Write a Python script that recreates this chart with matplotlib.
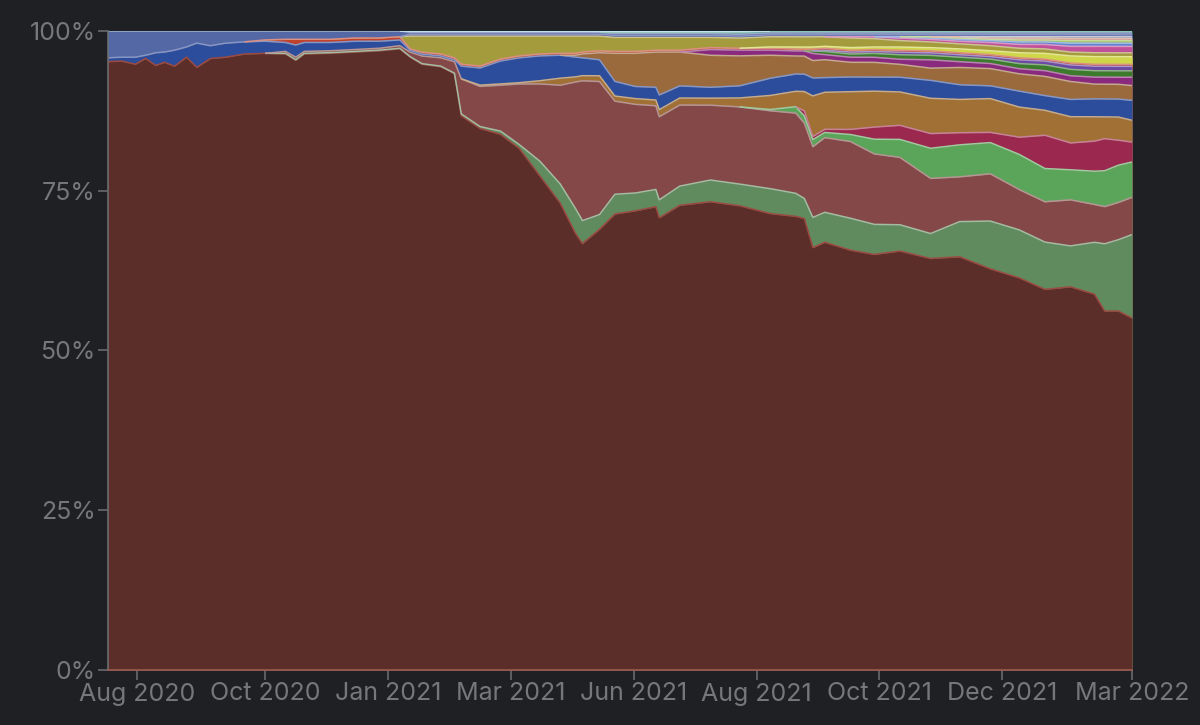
import numpy as np
import matplotlib.pyplot as plt
from matplotlib.colors import to_rgb

plt.rcParams['font.family'] = ['Inter', 'DejaVu Sans']

# sample points, days since 2020-07-14 (chart ends early March 2022)
day = [0, 8, 16, 22, 28, 33, 39, 46, 52, 60,
       69, 80, 92, 104, 110, 115, 130, 145, 159, 171,
       177, 184, 195, 203, 207, 218, 230, 241, 253, 265,
       274, 278, 288, 297, 309, 321, 323, 335, 353, 370,
       388, 403, 408, 413, 420, 435, 449, 464, 482, 499,
       517, 534, 549, 564, 578, 584, 592, 600]

tick_days = [17, 92, 164, 236, 308, 380, 452, 524, 600]
tick_labels = ['Aug 2020', 'Oct 2020', 'Jan 2021', 'Mar 2021', 'Jun 2021',
               'Aug 2021', 'Oct 2021', 'Dec 2021', 'Mar 2022']

# shares in percent, bottom layer first
main = [95.2, 95.3, 94.8, 95.8, 94.5, 95.2, 94.5, 95.9, 94.4, 95.6,
        95.9, 96.4, 96.6, 96.6, 95.5, 96.6, 96.7, 96.9, 97.0, 97.2,
        95.9, 94.5, 94.4, 93.3, 86.9, 85.0, 84.0, 81.7, 77.5, 73.2,
        68.5, 66.8, 68.9, 71.5, 72.0, 72.5, 70.7, 72.8, 73.2, 72.8,
        71.5, 70.7, 70.1, 65.7, 67.0, 65.7, 64.9, 65.3, 64.2, 64.6,
        62.9, 61.3, 59.5, 59.9, 58.7, 56.0, 55.9, 54.8]
green1 = [0] * 13 + [0.1] * 11 + [
    0.3, 0.3, 0.5, 0.6, 2.3, 3.0, 3.9, 3.6, 2.3, 3.1, 2.8, 2.7, 2.8, 3.0, 3.4,
    3.4, 3.9, 3.6, 3.1, 4.7, 4.7, 5.0, 4.7, 4.1, 3.9, 5.5, 7.5, 7.5, 7.4, 6.4,
    8.1, 10.5, 11.1, 13.0]
rose = [0] * 13 + [
    0.3, 0.4, 0.3, 0.3, 0.3, 0.3, 0.4, 0.7, 1.2, 1.3, 1.8, 5.5, 6.3, 7.2, 9.5,
    12.1, 15.5, 19.9, 21.9, 20.8, 14.6, 13.9, 13.1, 13.0, 12.7, 11.7, 12.1,
    12.2, 12.5, 11.7, 11.0, 11.7, 12.0, 11.0, 10.5, 8.6, 7.0, 7.4, 6.3, 6.3,
    7.2, 5.9, 5.8, 5.8, 5.8]
green2 = [0] * 40 + [0.2, 1.0, 1.1, 1.1, 0.8, 1.1, 2.3, 2.8, 4.7, 5.0, 4.9,
                     5.5, 5.2, 4.7, 5.2, 5.6, 5.8, 5.5]
crimson = [0] * 42 + [0.8, 0.5, 0.5, 0.8, 1.9, 2.2, 2.3, 1.9, 1.6, 2.7, 5.2,
                      4.2, 4.7, 5.0, 3.9, 3.1]
ochre = [0] * 25 + [0.2, 0.2, 0.2, 0.5, 1.1, 0.8, 0.8, 0.9, 0.8, 0.9, 0.9, 1.1,
                    1.1, 1.1, 1.4, 2.2, 2.4, 3.0, 6.3, 5.8, 5.9, 5.6, 5.2, 5.5,
                    5.2, 5.3, 4.7, 3.9, 4.1, 3.8, 3.4, 3.6, 3.4]
blue = [0.6, 0.6, 1.1, 0.5, 2.0, 1.6, 2.5, 1.6, 3.8, 2.0,
        2.2, 1.9, 1.9, 1.4, 1.9, 1.4, 1.3, 1.3, 1.1, 0.9,
        0.3, 0.3, 0.3, 0.3, 2.0, 2.7, 3.6, 3.9, 3.9, 3.6,
        3.1, 2.8, 2.5, 2.3, 1.9, 2.0, 2.3, 1.9, 1.7, 1.9,
        2.7, 2.7, 2.7, 2.8, 2.3, 2.3, 2.2, 2.3, 2.8, 2.3,
        2.0, 2.5, 2.3, 2.7, 2.8, 2.8, 2.8, 3.1]
brown = [0] * 30 + [0.3, 0.6, 1.1, 4.4, 5.2, 5.5, 6.7, 5.3, 5.0, 4.7, 3.6, 2.8,
                    2.8, 2.7, 2.8, 2.3, 2.3, 2.0, 1.9, 2.7, 2.7, 2.7, 3.0, 2.8,
                    2.3, 2.3, 2.3, 2.3]
magenta = [0] * 38 + [0.9, 0.9, 0.8, 0.8, 0.8, 1.1, 0.8, 0.8, 0.8, 0.8, 1.3,
                      0.9, 0.8, 0.8, 0.9, 0.9, 1.1, 1.1, 1.1, 1.3]
dkgreen = [0] * 43 + [0.4, 0.5, 0.5, 0.6, 0.7, 0.7, 0.7, 0.7, 0.8, 0.9, 1.0,
                      1.0, 1.0, 1.0, 1.0]
violet = [0] * 44 + [0.2, 0.3, 0.3, 0.4, 0.4, 0.4, 0.4, 0.6, 0.6, 0.7, 0.7,
                     0.7, 0.7, 0.7]
red = [0] * 12 + [0.2, 0.5, 0.9, 0.5, 0.5, 0.5, 0.5, 0.5, 0.2] + [0.3] * 37
yellow = [0] * 40 + [0.2, 0.3, 0.3, 0.3, 0.3, 0.4, 0.4, 0.5, 0.5, 0.6, 0.6,
                     0.8, 0.9, 1.1, 1.2, 1.2, 1.2, 1.2]
olive = [0] * 20 + [2.0, 2.5, 2.8, 3.4, 4.4, 4.7, 3.6, 3.1, 2.8, 2.7, 2.7, 2.5,
                    2.3, 2.2, 2.2, 2.0, 2.0, 2.0, 1.6, 1.6, 1.6, 1.6, 1.6, 1.6,
                    1.5, 1.5, 1.3, 1.0, 0.9, 0.8, 0.8, 0.7, 0.7, 0.6, 0.6, 0.6,
                    0.6, 0.6]
pink = [0] * 45 + [0.2, 0.3, 0.4, 0.4, 0.4, 0.5, 0.6, 0.7, 0.9, 1.0, 1.0, 1.0,
                   1.0]
lightblue = [0] * 47 + [0.2, 0.2, 0.3, 0.3, 0.4, 0.4, 0.5, 0.5, 0.5, 0.5, 0.5]
lime = [0] * 48 + [0.2, 0.2, 0.2, 0.3, 0.3, 0.4, 0.4, 0.4, 0.4, 0.4]
salmon = [0] * 49 + [0.2, 0.2, 0.3, 0.3, 0.3, 0.3, 0.3, 0.3, 0.3]
grey = [0] * 50 + [0.2, 0.2, 0.2, 0.3, 0.3, 0.3, 0.3, 0.3]
indigo = [0] * 20 + [0.3] * 38
slate = [4.2, 4.1, 4.1, 3.8, 3.4, 3.3, 3.0, 2.5, 1.9, 2.3,
         1.9, 1.7, 1.4, 1.3, 1.3, 1.3, 1.3, 1.1, 1.1, 0.9] + [0.3] * 38
teal = [0] * 33 + [0.2] * 6 + [0.3] * 19
cyan = [0] * 20 + [0.2] * 20 + [0] * 18

layers = [
    (main, '#5c2e2a', '#9c4a42'),
    (green1, '#608b5e', None),
    (rose, '#844848', None),
    (green2, '#5aa55a', None),
    (crimson, '#9b284e', None),
    (ochre, '#a07034', None),
    (blue, '#2c4c9c', None),
    (brown, '#9a6a3c', None),
    (magenta, '#8a2a7e', None),
    (dkgreen, '#3b7b2b', None),
    (violet, '#6a4aa5', None),
    (red, '#c0402a', None),
    (yellow, '#cfd64a', None),
    (olive, '#a39b3c', None),
    (pink, '#c0509a', None),
    (lightblue, '#5f86d6', None),
    (lime, '#9cc25a', None),
    (salmon, '#d08a7a', None),
    (grey, '#a3a3b3', None),
    (indigo, '#3d4a9a', None),
    (slate, '#5468a6', None),
    (teal, '#4aa08f', None),
    (cyan, '#9edced', None),
]


def lighten(c, f=0.42):
    r, g, b = to_rgb(c)
    return (r + (1 - r) * f, g + (1 - g) * f, b + (1 - b) * f)


bg = '#1f2024'
txt = '#76767b'

vals = np.array([l[0] for l in layers], dtype=float)
vals = vals / vals.sum(axis=0) * 100
cum = np.cumsum(vals, axis=0)
x = np.array(day)

fig = plt.figure(figsize=(12, 7.25), dpi=100, facecolor=bg)
ax = fig.add_axes([108 / 1200, 1 - 670 / 725, 1024 / 1200, 639 / 725])
ax.set_facecolor(bg)

# paint from the top layer down so neighbouring areas leave no seams
for i in range(len(layers) - 1, -1, -1):
    ax.fill_between(x, 0, cum[i], color=layers[i][1], lw=0)

# light outline along the top of every layer where it exists
for i, (v, c, ec) in enumerate(layers):
    nz = vals[i] > 0
    keep = nz.copy()
    keep[1:] |= nz[:-1]
    keep[:-1] |= nz[1:]
    top = np.where(keep, cum[i], np.nan)
    ax.plot(x, top, color=ec or lighten(c), lw=1.1, solid_capstyle='butt')

ax.set_xlim(0, 600)
ax.set_ylim(0, 100)
ax.set_xticks(tick_days)
ax.set_xticklabels(tick_labels)
ax.set_yticks([0, 25, 50, 75, 100])
ax.set_yticklabels(['0%', '25%', '50%', '75%', '100%'])
ax.tick_params(colors='#6a6a6e', labelcolor=txt, labelsize=18, length=7,
               width=1.2, pad=2)
for s in ['top', 'right']:
    ax.spines[s].set_visible(False)
ax.spines['left'].set_color('#6a6a6e')
ax.spines['bottom'].set_color('#9c5a50')
ax.spines['left'].set_linewidth(1.2)
ax.spines['bottom'].set_linewidth(1.2)

fig.savefig('out.png', dpi=100, facecolor=bg)
